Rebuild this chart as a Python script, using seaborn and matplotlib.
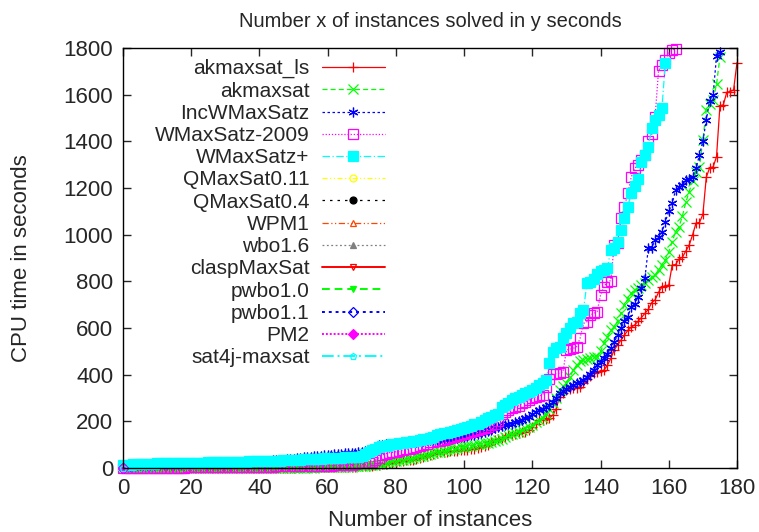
import numpy as np
import pandas as pd
import matplotlib
matplotlib.use('Agg')
import matplotlib.pyplot as plt
import seaborn as sns

# sorted CPU times (s) per solver, one value per solved instance
akmaxsat_ls = [0, 0, 0, 0, 0, 0, 0, 0, 0, 0,
               0, 0, 0, 0, 0, 0, 0, 0, 0, 0,
               0, 0, 0, 0, 0, 0, 0, 0, 1, 1,
               1, 1, 1, 1, 1, 1, 1, 1, 1, 1,
               1, 1, 1, 1, 2, 2, 2, 2, 2, 2,
               2, 3, 3, 3, 3, 3, 4, 4, 4, 4,
               4, 5, 5, 5, 6, 6, 6, 7, 7, 8,
               8, 9, 10, 11, 12, 14, 16, 18, 21, 24,
               27, 29, 31, 33, 34, 37, 40, 44, 48, 52,
               56, 60, 64, 68, 70, 71, 72, 73, 74, 76,
               77, 79, 81, 83, 86, 90, 95, 99, 110, 120,
               125, 130, 135, 141, 144, 147, 150, 153, 156, 165,
               175, 191, 205, 208, 212, 215, 227, 255, 306, 320,
               334, 338, 342, 345, 348, 365, 380, 395, 406, 410,
               415, 420, 440, 470, 506, 528, 549, 570, 590, 604,
               613, 629, 645, 663, 680, 709, 721, 753, 776, 781,
               784, 870, 872, 896, 903, 930, 956, 1000, 1050, 1052,
               1087, 1246, 1287, 1290, 1334, 1552, 1556, 1610, 1613, 1620, 1737]

akmaxsat = [0, 0, 0, 0, 0, 0, 0, 0, 0, 0,
            0, 0, 0, 0, 0, 0, 0, 0, 0, 0,
            0, 0, 0, 0, 0, 0, 0, 0, 0, 0,
            1, 1, 1, 1, 1, 1, 1, 1, 1, 1,
            1, 1, 1, 1, 1, 1, 1, 1, 2, 2,
            2, 2, 2, 2, 2, 2, 2, 3, 3, 3,
            3, 3, 4, 4, 5, 5, 6, 7, 8, 9,
            10, 11, 12, 13, 15, 17, 19, 22, 26, 30,
            32, 34, 37, 39, 41, 43, 46, 50, 54, 58,
            62, 65, 68, 71, 74, 77, 80, 83, 86, 89,
            91, 94, 97, 100, 103, 105, 106, 109, 113, 117,
            120, 126, 133, 140, 145, 149, 157, 165, 173, 177,
            186, 196, 206, 215, 234, 255, 277, 300, 334, 350,
            363, 390, 420, 440, 460, 463, 466, 470, 475, 477,
            500, 534, 560, 590, 606, 630, 663, 700, 725, 749,
            763, 773, 784, 795, 806, 817, 827, 849, 870, 891,
            927, 970, 1013, 1034, 1080, 1139, 1184, 1230, 1270, 1291,
            1406, 1534, 1560, 1577, 1644, 1760]

incwmaxsatz = [8, 10, 11, 12, 13, 13, 14, 14, 15, 15,
               16, 16, 17, 17, 18, 18, 19, 19, 20, 20,
               21, 21, 22, 22, 23, 23, 24, 24, 25, 25,
               26, 26, 27, 27, 28, 28, 29, 29, 30, 30,
               31, 31, 32, 32, 33, 33, 34, 36, 38, 40,
               41, 42, 44, 46, 48, 49, 50, 52, 54, 56,
               57, 58, 59, 60, 62, 63, 64, 65, 66, 68,
               70, 72, 76, 84, 90, 99, 101, 103, 104, 105,
               106, 108, 110, 112, 113, 113, 114, 116, 118, 120,
               120, 121, 122, 123, 124, 127, 128, 129, 130, 132,
               134, 136, 140, 144, 148, 152, 156, 160, 165, 170,
               177, 180, 184, 188, 191, 196, 202, 208, 214, 220,
               232, 240, 249, 255, 262, 270, 285, 300, 320, 330,
               340, 348, 358, 365, 370, 377, 390, 405, 420, 440,
               456, 470, 490, 513, 540, 570, 600, 630, 649, 691,
               705, 734, 770, 813, 941, 945, 977, 991, 1010, 1056,
               1100, 1134, 1191, 1206, 1213, 1234, 1240, 1249, 1284, 1342,
               1400, 1491, 1574, 1600, 1764, 1784]

wmaxsatz_2009 = [0, 0, 1, 1, 1, 1, 1, 1, 1, 1,
                 2, 2, 2, 2, 2, 2, 2, 2, 2, 3,
                 3, 3, 3, 3, 3, 3, 4, 4, 4, 4,
                 4, 4, 5, 5, 5, 5, 6, 6, 6, 6,
                 6, 7, 7, 7, 7, 8, 8, 8, 8, 9,
                 9, 9, 9, 10, 10, 10, 10, 10, 11, 11,
                 11, 11, 12, 12, 13, 13, 14, 15, 17, 20,
                 22, 23, 24, 26, 34, 45, 56, 62, 66, 68,
                 70, 72, 76, 80, 84, 88, 91, 95, 100, 105,
                 110, 113, 116, 118, 121, 127, 130, 134, 138, 142,
                 146, 149, 154, 159, 163, 168, 173, 177, 184, 191,
                 200, 234, 240, 248, 256, 262, 268, 277, 285, 292,
                 299, 305, 310, 313, 349, 380, 403, 405, 406, 413,
                 506, 510, 513, 520, 556, 620, 627, 656, 663, 670,
                 741, 777, 799, 803, 956, 965, 1070, 1120, 1177, 1246,
                 1284, 1299, 1320, 1342, 1400, 1430, 1505, 1703, 1727, 1750,
                 1777, 1790, 1795]

wmaxsatz_plus = [12, 14, 15, 16, 17, 17, 18, 18, 19, 19,
                 20, 20, 20, 21, 21, 21, 22, 22, 22, 23,
                 23, 23, 24, 24, 24, 25, 25, 25, 26, 26,
                 26, 27, 27, 27, 28, 28, 28, 29, 29, 29,
                 30, 30, 30, 31, 31, 31, 32, 33, 34, 35,
                 36, 37, 37, 38, 39, 40, 40, 41, 41, 42,
                 43, 44, 44, 45, 45, 46, 46, 47, 47, 48,
                 52, 60, 70, 78, 84, 90, 94, 96, 99, 102,
                 104, 106, 108, 110, 112, 115, 118, 121, 124, 127,
                 130, 135, 140, 145, 149, 152, 156, 160, 163, 168,
                 172, 177, 182, 187, 191, 198, 205, 213, 220, 228,
                 234, 263, 270, 280, 290, 300, 306, 315, 322, 327,
                 334, 345, 356, 366, 377, 449, 498, 513, 520, 556,
                 580, 599, 620, 627, 663, 677, 792, 799, 810, 830,
                 846, 850, 856, 934, 941, 970, 1020, 1070, 1120, 1177,
                 1209, 1240, 1313, 1340, 1377, 1456, 1491, 1513, 1541, 1737]

# solvers that only appear in the key (a single point at the origin)
only_origin = [1]

series = [
    # name, values, colour, marker, filled, dashes, width
    ('akmaxsat_ls', akmaxsat_ls, '#ff0000', '+', True, '-', 0.9),
    ('akmaxsat', akmaxsat, '#00ff00', 'x', True, (0, (4, 2.5)), 0.9),
    ('IncWMaxSatz', incwmaxsatz, '#0000ff', (6, 2, 0), True, (0, (2, 2)), 0.9),
    ('WMaxSatz-2009', wmaxsatz_2009, '#ff00ff', 's', False, (0, (1, 1.5)), 0.9),
    ('WMaxSatz+', wmaxsatz_plus, '#00ffff', 's', True, (0, (6, 2, 1, 2)), 0.9),
    ('QMaxSat0.11', only_origin, '#ffff00', 'o', False, (0, (4, 2, 1, 2, 1, 2)), 0.9),
    ('QMaxSat0.4', only_origin, '#000000', 'o', True, (0, (2, 4)), 0.9),
    ('WPM1', only_origin, '#ff4500', '^', False, (0, (5, 2, 1, 2, 1, 2)), 0.9),
    ('wbo1.6', only_origin, '#808080', '^', True, (0, (1.5, 2)), 0.9),
    ('claspMaxSat', only_origin, '#ff0000', 'v', False, '-', 1.4),
    ('pwbo1.0', only_origin, '#00ff00', 'v', True, (0, (4, 2.5)), 1.4),
    ('pwbo1.1', only_origin, '#0000ff', 'D', False, (0, (1.5, 2)), 1.4),
    ('PM2', only_origin, '#ff00ff', 'D', True, (0, (1, 1)), 1.4),
    ('sat4j-maxsat', only_origin, '#00ffff', 'p', False, (0, (6, 2, 1, 2)), 1.4),
]

sns.set_style('ticks')
plt.rcParams['font.family'] = ['Liberation Sans', 'DejaVu Sans']

fig = plt.figure(figsize=(7.59, 5.32), dpi=100)
ax = fig.add_axes([0.162, 0.120, 0.809, 0.790])

for name, vals, col, mk, filled, ls, lw in series:
    df = pd.DataFrame({'x': np.arange(len(vals)), 'y': vals})
    ms = 5 if mk in ('D', 'o', 'v', '^', 'p') else 7
    sns.lineplot(data=df, x='x', y='y', ax=ax, estimator=None, sort=False,
                 color=col, linestyle=ls, linewidth=lw, marker=mk,
                 markersize=ms, markeredgecolor=col, markeredgewidth=0.9,
                 markerfacecolor=col if filled else 'none',
                 label=name, clip_on=False)

ax.set_xlim(0, 180)
ax.set_ylim(0, 1800)
ax.set_xticks(range(0, 181, 20))
ax.set_yticks(range(0, 1801, 200))
ax.tick_params(direction='in', length=6, width=1, top=True, right=True,
               labelsize=16, pad=7)
for sp in ax.spines.values():
    sp.set_visible(True)
    sp.set_linewidth(1.0)
    sp.set_color('black')

ax.set_title('Number x of instances solved in y seconds', fontsize=14.5, pad=15)
ax.set_xlabel('Number of instances', fontsize=16, labelpad=8)
ax.set_ylabel('CPU time in seconds', fontsize=16, labelpad=23)

ax.legend(loc='upper right', bbox_to_anchor=(0.45, 1.008), frameon=False,
          markerfirst=False, fontsize=15, handlelength=3.0, handletextpad=0.6,
          labelspacing=0.155, borderpad=0.2)

fig.savefig('out.png', dpi=100)
